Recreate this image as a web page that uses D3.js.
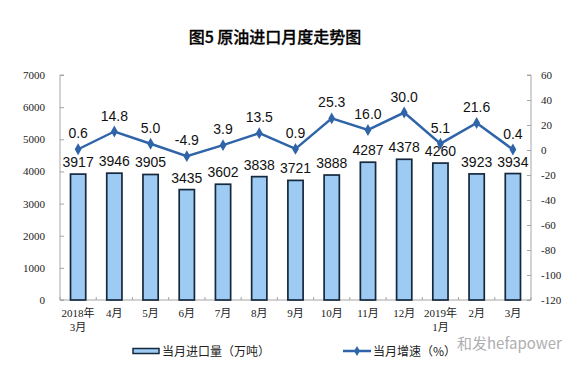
<!DOCTYPE html>
<html><head><meta charset="utf-8">
<script src="https://cdn.jsdelivr.net/npm/d3@7"></script>
<style>body{margin:0;background:#fff;}svg{display:block;}</style>
</head><body>
<svg id="c" width="581" height="379"></svg>
<script>
const categories = [["2018年","3月"],["4月"],["5月"],["6月"],["7月"],["8月"],["9月"],["10月"],["11月"],["12月"],["2019年","1月"],["2月"],["3月"]];
const importVolume = [3917,3946,3905,3435,3602,3838,3721,3888,4287,4378,4260,3923,3934];
const growthRate = [0.6,14.8,5.0,-4.9,3.9,13.5,0.9,25.3,16.0,30.0,5.1,21.6,0.4];
const leftTicks = [0,1000,2000,3000,4000,5000,6000,7000];
const rightTicks = [-120,-100,-80,-60,-40,-20,0,20,40,60];
const title = "图5  原油进口月度走势图";
const legendBar = "当月进口量（万吨）";
const legendLine = "当月增速（%）";

const svg = d3.select("#c");
const L = 60, R = 531, T = 75, B = 300;
const idx = d3.range(categories.length);
const x = d3.scaleBand().domain(idx).range([L, R]).paddingInner(0.58).paddingOuter(0.29);
const xc = i => x(i) + x.bandwidth()/2;
const y = d3.scaleLinear().domain([0,7000]).range([B,T]);
const y2 = d3.scaleLinear().domain([-120,60]).range([B,T]);
const serif = "'Times New Roman','Liberation Serif','Noto Sans CJK SC',serif";
const sans = "Arial,'Liberation Sans','Noto Sans CJK SC',sans-serif";
const axisCol = "#a6a6a6";

svg.append("text").attr("x",275).attr("y",43).attr("text-anchor","middle")
  .attr("font-family","'Noto Sans CJK SC',sans-serif").attr("font-size",16).attr("font-weight",500)
  .attr("fill","#000").attr("stroke","#000").attr("stroke-width",0.3).text(title);

// left axis
const la = svg.append("g").attr("transform",`translate(${L},0)`)
  .call(d3.axisRight(y).tickValues(leftTicks).tickSize(4).tickFormat(d => String(d)));
la.select(".domain").attr("stroke",axisCol).attr("d",`M4,${B}H0V${T}H4`);
la.selectAll(".tick line").attr("stroke",axisCol);
la.selectAll(".tick text").attr("x",-15).attr("text-anchor","end").attr("font-family",serif).attr("font-size",11).attr("fill","#222");

// right axis
const ra = svg.append("g").attr("transform",`translate(${R},0)`)
  .call(d3.axisLeft(y2).tickValues(rightTicks).tickSize(4).tickFormat(d => String(d)));
ra.select(".domain").attr("stroke",axisCol).attr("d",`M-4,${B}H0V${T}H-4`);
ra.selectAll(".tick line").attr("stroke",axisCol);
ra.selectAll(".tick text").attr("x",10).attr("text-anchor","start").attr("font-family",serif).attr("font-size",11).attr("fill","#222");

// bottom axis
svg.append("line").attr("x1",L).attr("x2",R).attr("y1",B).attr("y2",B).attr("stroke",axisCol);
svg.selectAll(".xt").data(d3.range(categories.length+1)).enter().append("line")
  .attr("x1",i=>L+i*(R-L)/categories.length).attr("x2",i=>L+i*(R-L)/categories.length)
  .attr("y1",B).attr("y2",B-3).attr("stroke",axisCol);
const xl = svg.selectAll(".xl").data(idx).enter().append("text")
  .attr("text-anchor","middle").attr("font-family",serif).attr("font-size",11).attr("fill","#222");
xl.each(function(i){
  const t = d3.select(this);
  categories[i].forEach((s,k)=>t.append("tspan").attr("x",xc(i)).attr("y",317+k*14).text(s));
});

// bars
svg.selectAll(".bar").data(idx).enter().append("rect")
  .attr("x",i=>x(i)).attr("width",x.bandwidth())
  .attr("y",i=>y(importVolume[i])).attr("height",i=>B-y(importVolume[i]))
  .attr("fill","#9dcbf3").attr("stroke","#16283c").attr("stroke-width",1.7);
svg.selectAll(".bl").data(idx).enter().append("text")
  .attr("x",xc).attr("y",i=>y(importVolume[i])-7).attr("text-anchor","middle")
  .attr("font-family",sans).attr("font-size",14).attr("fill","#111").text(i=>importVolume[i]);

// line
const lineCol = "#2f65a8";
svg.append("path").datum(idx)
  .attr("d",d3.line().x(xc).y(i=>y2(growthRate[i])))
  .attr("fill","none").attr("stroke",lineCol).attr("stroke-width",2.5);
const diamond = d3.symbol().type(d3.symbolDiamond).size(40);
svg.selectAll(".pt").data(idx).enter().append("path")
  .attr("d",diamond).attr("transform",i=>`translate(${xc(i)},${y2(growthRate[i])})`).attr("fill",lineCol);
svg.selectAll(".gl").data(idx).enter().append("text")
  .attr("x",xc).attr("y",i=>y2(growthRate[i])-11).attr("text-anchor","middle")
  .attr("font-family",sans).attr("font-size",14).attr("fill","#111").text(i=>growthRate[i].toFixed(1));

// legend
svg.append("rect").attr("x",133).attr("y",348.5).attr("width",26).attr("height",5)
  .attr("fill","#9dcbf3").attr("stroke","#16283c").attr("stroke-width",1.5);
svg.append("text").attr("x",162).attr("y",355.5).attr("font-family","'Noto Sans CJK SC',sans-serif")
  .attr("font-size",12).attr("fill","#222").text(legendBar);
svg.append("line").attr("x1",343).attr("x2",371).attr("y1",351).attr("y2",351).attr("stroke",lineCol).attr("stroke-width",2.5);
svg.append("path").attr("d",d3.symbol().type(d3.symbolDiamond).size(30)).attr("transform","translate(357,351)").attr("fill",lineCol);
svg.append("text").attr("x",373).attr("y",355.5).attr("font-family","'Noto Sans CJK SC',sans-serif")
  .attr("font-size",12).attr("fill","#222").text(legendLine);
svg.append("text").attr("x",457).attr("y",349).attr("font-family","'Noto Sans CJK SC',sans-serif")
  .attr("font-size",15).attr("fill","#9a9a9a").attr("opacity",0.8).text("和发hefapower");
</script>
</body></html>
